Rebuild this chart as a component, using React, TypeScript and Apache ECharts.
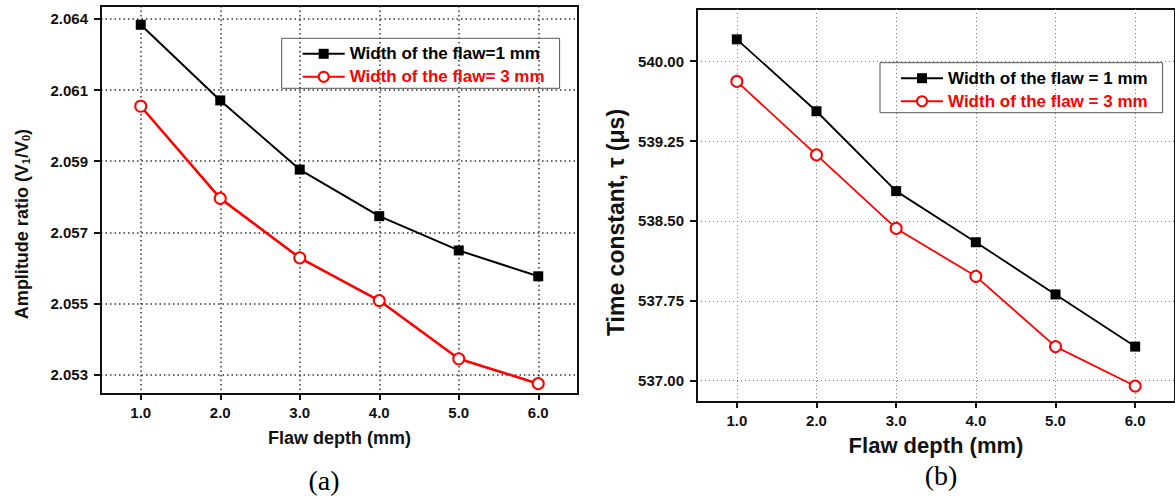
import React, { useEffect, useRef } from "react";
import * as echarts from "echarts";

const xValues = [1, 2, 3, 4, 5, 6];
const ampWidth1 = [2.06342, 2.06108, 2.05894, 2.0575, 2.05644, 2.05564];
const ampWidth3 = [2.0609, 2.05805, 2.05621, 2.05489, 2.05309, 2.05232];
const tauWidth1 = [540.205, 539.53, 538.78, 538.3, 537.81, 537.32];
const tauWidth3 = [539.81, 539.12, 538.43, 537.98, 537.32, 536.95];
const xTicks = [1, 2, 3, 4, 5, 6];
const ampTicks = [2.0526, 2.0548, 2.057, 2.0592, 2.0614, 2.0636];
const tauTicks = [537, 537.75, 538.5, 539.25, 540];

const L1 = "Width of the flaw=1 mm";
const L2 = "Width of the flaw= 3 mm";
const R1 = "Width of the flaw = 1 mm";
const R2 = "Width of the flaw = 3 mm";

const FONT = "'Liberation Sans', Arial, sans-serif";
const RED = "#ff0000";

function pairs(ys: number[]) {
  return xValues.map((x, i) => [x, ys[i]]);
}

function xAxis(gridIndex: number, nameGap: number, nameSize: number, splitStyle: any) {
  return {
    type: "value",
    gridIndex,
    min: 0.5,
    max: 6.5,
    name: "Flaw depth (mm)",
    nameLocation: "middle",
    nameGap,
    nameTextStyle: { fontFamily: FONT, fontWeight: "bold", fontSize: nameSize, color: "#111" },
    axisLine: { show: true, lineStyle: { color: "#111", width: 2 } },
    axisTick: { show: true, inside: false, length: 6, customValues: xTicks, lineStyle: { color: "#111", width: 2 } },
    axisLabel: {
      customValues: xTicks,
      margin: 11,
      formatter: (v: number) => v.toFixed(1),
      fontFamily: FONT,
      fontWeight: "bold",
      fontSize: 15,
      color: "#111",
    },
    splitLine: { show: true, lineStyle: splitStyle },
  };
}

function yAxis(gridIndex: number, min: number, max: number, ticks: number[], digits: number, name: string, nameGap: number, nameSize: number, shift: number, rich: any, splitStyle: any) {
  return {
    type: "value",
    gridIndex,
    min,
    max,
    name,
    nameLocation: "middle",
    nameGap,
    nameTextStyle: {
      fontFamily: FONT,
      fontWeight: "bold",
      fontSize: nameSize,
      color: "#111",
      padding: [0, shift, 0, 0],
      rich,
    },
    axisLine: { show: true, lineStyle: { color: "#111", width: 2 } },
    axisTick: { show: true, inside: false, length: 7, customValues: ticks, lineStyle: { color: "#111", width: 2 } },
    axisLabel: {
      customValues: ticks,
      margin: 13,
      formatter: (v: number) => v.toFixed(digits),
      fontFamily: FONT,
      fontWeight: "bold",
      fontSize: 15,
      color: "#111",
    },
    splitLine: { show: true, lineStyle: splitStyle },
  };
}

function legend(left: number, top: number, names: string[]) {
  return {
    left,
    top,
    orient: "vertical",
    data: [
      { name: names[0], textStyle: { color: "#000" } },
      { name: names[1], textStyle: { color: RED } },
    ],
    borderColor: "#555",
    borderWidth: 1,
    borderRadius: 0,
    padding: [7, 15, 3, 20],
    itemWidth: 42,
    itemHeight: 12.5,
    itemGap: 6,
    selectedMode: false,
    textStyle: { fontFamily: FONT, fontWeight: "bold", fontSize: 17 },
  };
}

export default function App() {
  const ref = useRef<HTMLDivElement>(null);
  useEffect(() => {
    if (!ref.current) return;
    const chart = echarts.init(ref.current, undefined, { renderer: "svg" });
    const leftSplit = { type: [1.5, 3], color: "#333", width: 1.5 };
    const rightSplit = { type: [1, 3], color: "#777", width: 1 };
    const subRich = {
      s: { fontFamily: FONT, fontWeight: "bold", fontSize: 11, color: "#111", verticalAlign: "bottom", lineHeight: 12 },
    };
    chart.setOption({
      animation: false,
      backgroundColor: "#ffffff",
      grid: [
        { left: 101, top: 6, width: 477, height: 388, show: true, borderColor: "#111", borderWidth: 2, backgroundColor: "transparent" },
        { left: 697, top: 9, width: 483, height: 393, show: true, borderColor: "#111", borderWidth: 2, backgroundColor: "transparent" },
      ],
      xAxis: [xAxis(0, 35, 18, leftSplit), xAxis(1, 32, 22, rightSplit)],
      yAxis: [
        yAxis(0, 2.052, 2.064, ampTicks, 3, "Amplitude ratio (V{s|1}/V{s|0})", 70, 18, 48, subRich, leftSplit),
        yAxis(1, 536.8, 540.49, tauTicks, 2, "Time constant, τ (μs)", 70, 23, 34, undefined, rightSplit),
      ],
      legend: [legend(281.7, 38.3, [L1, L2]), legend(880, 62.7, [R1, R2])],
      series: [
        {
          name: L1, type: "line", xAxisIndex: 0, yAxisIndex: 0, data: pairs(ampWidth1),
          symbol: "rect", symbolSize: 10, color: "#000",
          lineStyle: { color: "#000", width: 2 }, itemStyle: { color: "#000" },
        },
        {
          name: L2, type: "line", xAxisIndex: 0, yAxisIndex: 0, data: pairs(ampWidth3),
          symbol: "emptyCircle", symbolSize: 11, color: RED,
          lineStyle: { color: RED, width: 2.6 }, itemStyle: { color: RED, borderColor: RED, borderWidth: 1 },
        },
        {
          name: R1, type: "line", xAxisIndex: 1, yAxisIndex: 1, data: pairs(tauWidth1),
          symbol: "rect", symbolSize: 10, color: "#000",
          lineStyle: { color: "#000", width: 1.8 }, itemStyle: { color: "#000" },
        },
        {
          name: R2, type: "line", xAxisIndex: 1, yAxisIndex: 1, data: pairs(tauWidth3),
          symbol: "emptyCircle", symbolSize: 11, color: RED,
          lineStyle: { color: RED, width: 1.8 }, itemStyle: { color: RED, borderColor: RED, borderWidth: 1 },
        },
      ],
      graphic: [
        { type: "text", x: 324, y: 480, style: { text: "(a)", align: "center", verticalAlign: "middle", font: "28px 'Liberation Serif', 'Times New Roman', serif", fill: "#000" } },
        { type: "text", x: 941, y: 475, style: { text: "(b)", align: "center", verticalAlign: "middle", font: "28px 'Liberation Serif', 'Times New Roman', serif", fill: "#000" } },
      ],
    });
    return () => chart.dispose();
  }, []);
  return (
    <div
      ref={ref}
      style={{ position: "fixed", left: 0, top: 0, width: 1175, height: 499, background: "#fff" }}
    />
  );
}
